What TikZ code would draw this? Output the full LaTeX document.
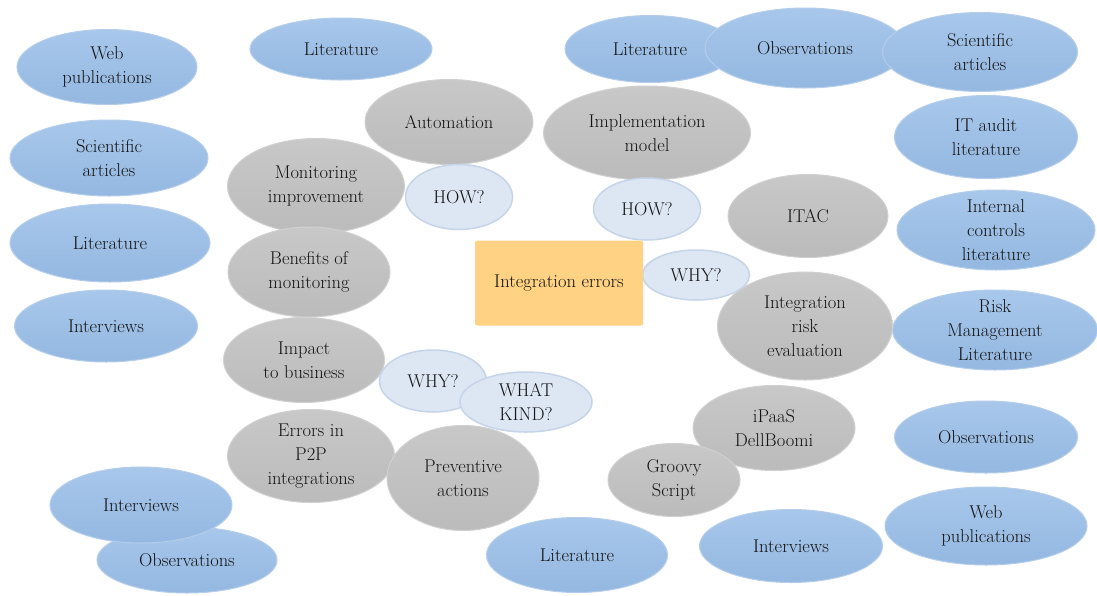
\documentclass[tikz,border=0pt]{standalone}
\usepackage{xcolor}
\usetikzlibrary{shapes.geometric}

\definecolor{bluetop}{HTML}{A8C7EB}
\definecolor{bluebot}{HTML}{94B8E1}
\definecolor{blueedge}{HTML}{B4CDEB}
\definecolor{greytop}{HTML}{C8C8C8}
\definecolor{greybot}{HTML}{BBBBBB}
\definecolor{greyedge}{HTML}{D0D0D0}
\definecolor{askfill}{HTML}{DDE7F4}
\definecolor{askedge}{HTML}{C6D4E8}
\definecolor{topicfill}{HTML}{FFD383}
\definecolor{txtgrey}{HTML}{141414}

\begin{document}
\begin{tikzpicture}[x=1pt, y=-1pt,
    every node/.style={font=\fontsize{18.5}{24}\selectfont, text=txtgrey, align=center},
    ovalsize/.style 2 args={minimum width=#1pt, minimum height=#2pt},
    blueovl/.style={ellipse, draw=blueedge, line width=1pt, top color=bluetop, bottom color=bluebot, inner sep=-6pt},
    greyovl/.style={ellipse, draw=greyedge, line width=1pt, top color=greytop, bottom color=greybot, inner sep=-6pt},
    askovl/.style={ellipse, draw=askedge, line width=1.5pt, fill=askfill, inner sep=-6pt},
    topicbox/.style={rectangle, rounded corners=2pt, fill=topicfill}]

    \fill[white] (0,0) rectangle (1097,595);
    \useasboundingbox (0,0) rectangle (1097,595);

    % sources, left side
    \node[blueovl, ovalsize={180}{75}] (web1) at (107,67) {Web\\publications};
    \node[blueovl, ovalsize={182}{62}] (lit1) at (341,49) {Literature};
    \node[blueovl, ovalsize={198}{76}] (sci1) at (109,158) {Scientific\\articles};
    \node[blueovl, ovalsize={200}{78}] (lit2) at (110,243) {Literature};
    \node[blueovl, ovalsize={183}{72}] (int1) at (106,326) {Interviews};
    \node[blueovl, ovalsize={180}{66}] (obs1) at (187,560) {Observations};
    \node[blueovl, ovalsize={182}{76}] (int2) at (141,505) {Interviews};

    % sources, bottom and right side
    \node[blueovl, ovalsize={181}{75}] (lit3) at (577,555) {Literature};
    \node[blueovl, ovalsize={183}{73}] (int3) at (791,546) {Interviews};
    \node[blueovl, ovalsize={202}{78}] (web2) at (986,526) {Web\\publications};
    \node[blueovl, ovalsize={183}{72}] (obs2) at (986,437) {Observations};
    \node[blueovl, ovalsize={205}{80}] (risk) at (995,330) {Risk\\Management\\Literature};
    \node[blueovl, ovalsize={198}{80}] (intctrl) at (996,230) {Internal\\controls\\literature};
    \node[blueovl, ovalsize={183}{83}] (itaudit) at (986,137) {IT audit\\literature};

    % sources, top
    \node[blueovl, ovalsize={170}{67}] (lit4) at (650,49) {Literature};
    \node[blueovl, ovalsize={200}{80}] (obs3) at (805,48) {Observations};
    \node[blueovl, ovalsize={195}{79}] (sci2) at (980,52) {Scientific\\articles};

    % topics
    \node[greyovl, ovalsize={168}{85}] (automation) at (449,122) {Automation};
    \node[greyovl, ovalsize={207}{94}] (implmodel) at (647,133) {Implementation\\model};
    \node[greyovl, ovalsize={177}{95}] (monimpr) at (316,186) {Monitoring\\improvement};
    \node[greyovl, ovalsize={162}{90}] (benefits) at (309,272) {Benefits of\\monitoring};
    \node[greyovl, ovalsize={160}{83}] (itac) at (808,216) {ITAC};
    \node[greyovl, ovalsize={175}{108}] (riskeval) at (805,326) {Integration\\risk\\evaluation};
    \node[greyovl, ovalsize={161}{85}] (impact) at (304,360) {Impact\\to business};
    \node[greyovl, ovalsize={167}{93}] (p2p) at (311,456) {Errors in\\P2P\\integrations};
    \node[greyovl, ovalsize={152}{105}] (preventive) at (463,478) {Preventive\\actions};
    \node[greyovl, ovalsize={162}{85}] (ipaas) at (774,428) {iPaaS\\DellBoomi};
    \node[greyovl, ovalsize={132}{73}] (groovy) at (674,480) {Groovy\\Script};

    % questions
    \node[askovl, ovalsize={107}{65}] (how1) at (459,197) {HOW?};
    \node[askovl, ovalsize={107}{62}] (how2) at (647,209) {HOW?};
    \node[askovl, ovalsize={107}{50}] (why1) at (696,275) {WHY?};
    \node[askovl, ovalsize={107}{62}] (why2) at (433,381) {WHY?};
    \node[askovl, ovalsize={132}{60}] (whatkind) at (526,402) {WHAT\\KIND?};

    \node[topicbox, minimum width=168pt, minimum height=85pt] (interr) at (559,283) {Integration errors};
\end{tikzpicture}
\end{document}
